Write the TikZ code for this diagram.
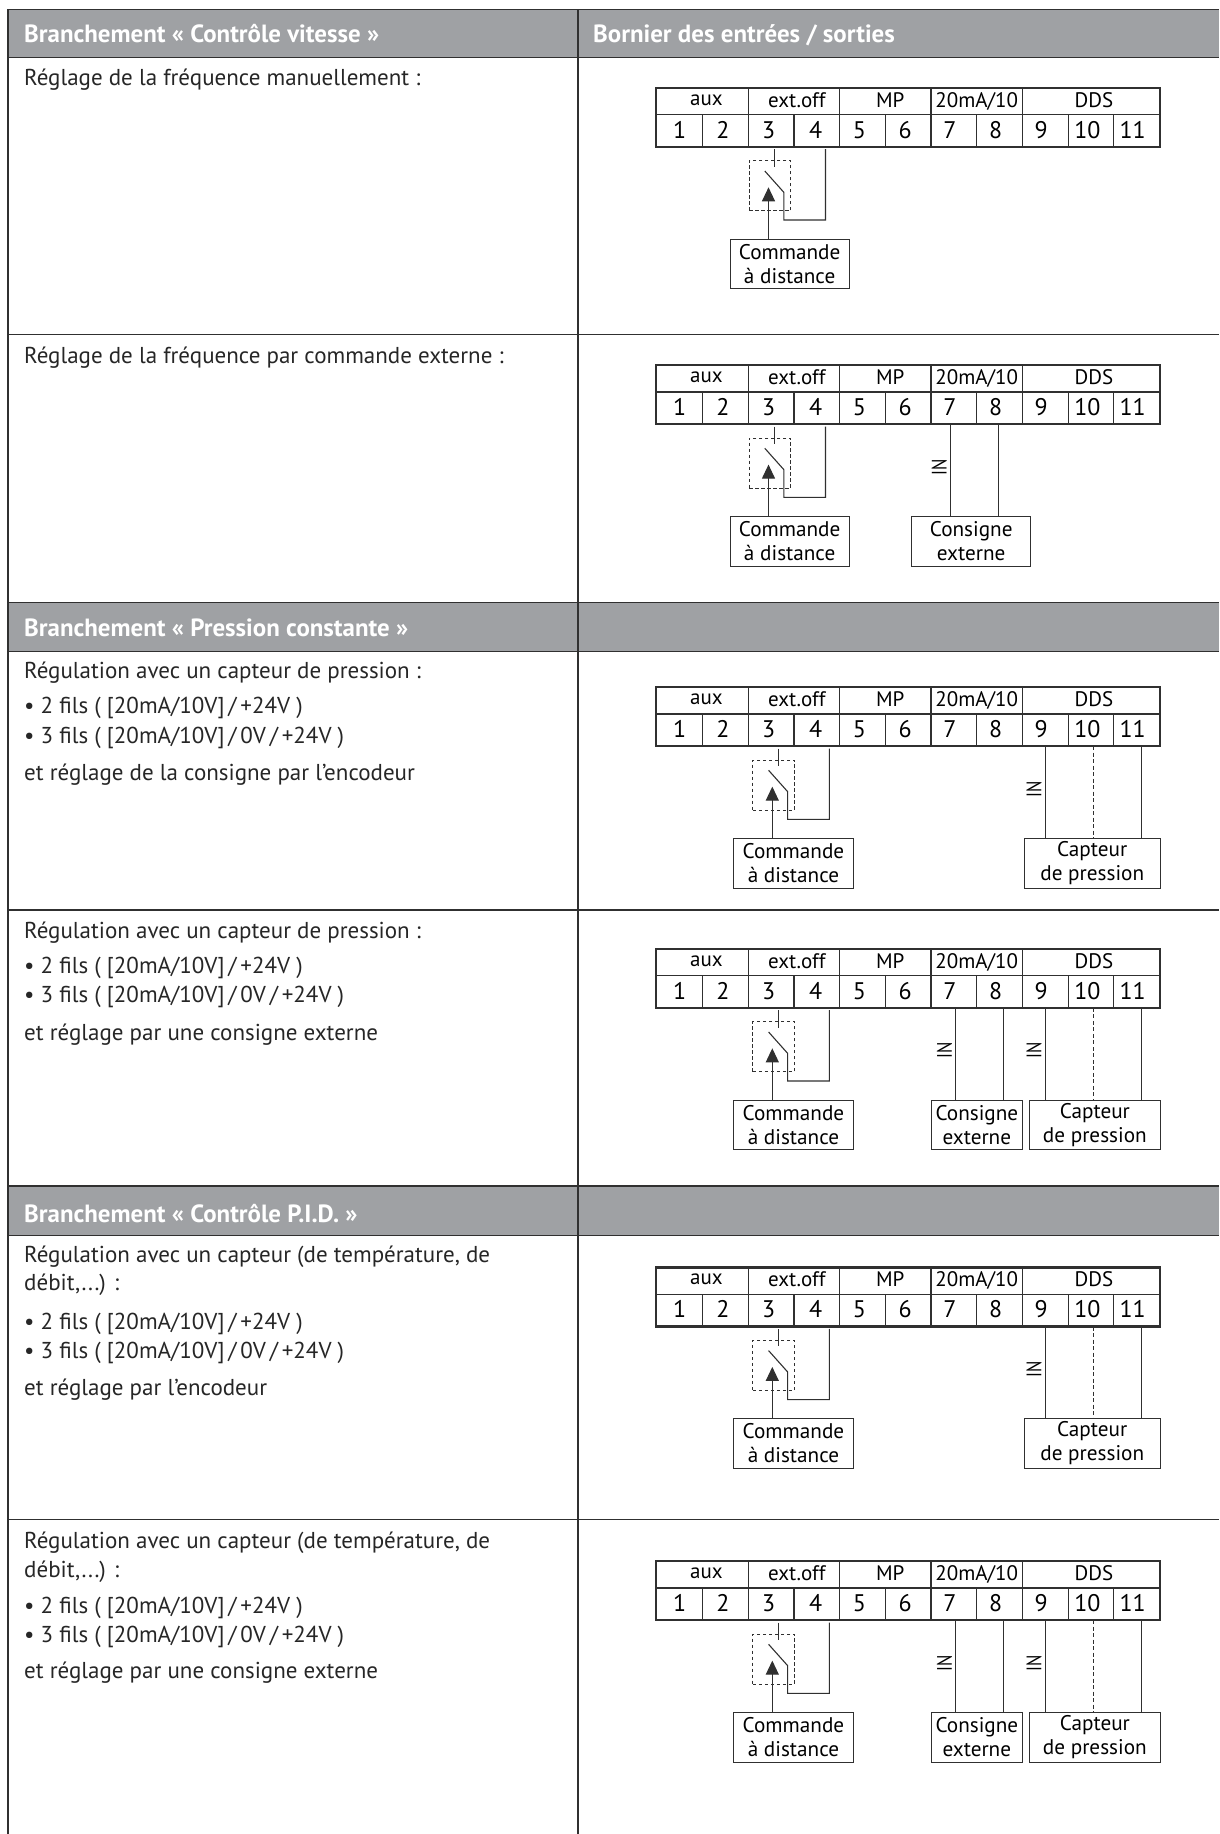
\documentclass[tikz,border=0pt]{standalone}
\usepackage{fontspec}
\setmainfont{PT Sans}
\usetikzlibrary{arrows.meta,positioning,calc}
\definecolor{mygray}{HTML}{9FA1A4}
\definecolor{myline}{HTML}{303030}

\newcommand{\deuxfils}{• 2 fils ( [20mA/10V]\,/\,+24V )}
\newcommand{\troisfils}{• 3 fils ( [20mA/10V]\,/\,0V\,/\,+24V )}

% terminal strip, #1 = row, #2 = top
\newcommand{\bornier}[2]{
	\foreach \a/\n/\s/\t in {0/2/8/{\raisebox{2pt}{aux}},2/2/6/{ext.off},4/2/10/{MP},6/2/0/{20mA/10},8/3/6/{DDS}}
	{
		\node [tete, minimum width = \n*45.7pt, anchor = north west] (h#1-\a) at (656.2+45.7*\a,#2) {\hspace*{\s pt}\t};
	}
	\foreach \i/\s in {1/0,2/5,3/5,4/2,5/6,6/6,7/8,8/8,9/8,10/7,11/8}
	{
		\node [borne, anchor = north west] (c#1-\i) at (656.2+45.7*\i-45.7,#2+26.4) {\i\hspace*{\s pt}};
	}
	\draw [cadre] (h#1-0.north west) rectangle (c#1-11.south east);
}

% switch with its remote box, #1 = row, #2 = top, #3 = x offset
\newcommand{\commande}[3]{
	\begin{scope}[shift = {(655.5+#3,#2)}]
		\node [boite, minimum width = 119.3pt] (cmd#1) at (134.15,176.15) {Commande\\à distance};
		\node [pointilles] (sw#1) at (114.35,98) {};
		\coordinate (a#1) at (119,61.5);
		\coordinate (b#1) at (119,79);
		\coordinate (p#1) at (109.3,83.3);
		\coordinate (q#1) at (128.3,104.6);
		\coordinate (r#1) at (128.3,132.3);
		\coordinate (s#1) at (170,132.3);
		\coordinate (t#1) at (170,61.5);
		\coordinate (k#1) at (113,99.6);
		\draw [fil] (a#1) -- (b#1); %to terminal 3
		\draw [fil] (p#1) -- (q#1) -- (r#1) -- (s#1) -- (t#1); %contact to terminal 4
		\draw [fil, -{Triangle[length=14pt,width=13pt]}] (k#1 |- cmd#1.north) -- (k#1);
	\end{scope}
}

% setpoint box, #1 = row, #2 = left, #3 = right, #4/#5 = wires, #6 = IN
\newcommand{\consigne}[6]{
	\coordinate (x#1) at (#2,0 |- cmd#1.center);
	\coordinate (z#1) at (#3,0 |- cmd#1.center);
	\node [boite, minimum width = #3pt-#2pt] (cons#1) at ($(x#1)!.5!(z#1)$) {Consigne\\externe};
	\draw [fil] (#4,0 |- c#1-7.south) -- (#4,0 |- cons#1.north);
	\draw [fil] (#5,0 |- c#1-8.south) -- (#5,0 |- cons#1.north);
	\node [entree] (in#1a) at (#6,0 |- sw#1.center) {\scalebox{.8}[1]{IN}};
}

% sensor box, #1 = row, #2 = left
\newcommand{\capteur}[2]{
	\coordinate (v#1) at (#2,0 |- cmd#1.center);
	\coordinate (w#1) at (1160,0 |- cmd#1.center);
	\node [boite, minimum width = 1160pt-#2pt] (cap#1) at ($(v#1)!.5!(w#1)$) {Capteur\\de pression};
	\draw [fil] (1045.5,0 |- c#1-9.south) -- (1045.5,0 |- cap#1.north);
	\draw [fil, dashed, dash pattern = on 4pt off 2.5pt] (1093.5,0 |- c#1-10.south) -- (1093.5,0 |- cap#1.north);
	\draw [fil] (1141.5,0 |- c#1-11.south) -- (1141.5,0 |- cap#1.north);
	\node [entree] (in#1b) at (1034,0 |- sw#1.center) {\scalebox{.8}[1]{IN}};
}

\begin{document}
\begin{tikzpicture}[x = 1pt, y = -1pt]
	\tikzstyle{tete} = [draw = myline, line width = 1.2pt, inner sep = 0, minimum height = 26.4pt, font = \fontsize{21}{23}\selectfont, text depth = 0pt, text height = 11.6pt]
	\tikzstyle{borne} = [draw = myline, line width = 1.2pt, inner sep = 0, minimum width = 45.7pt, minimum height = 31.6pt, font = \fontsize{24}{26}\selectfont, text depth = 0pt, text height = 15.6pt]
	\tikzstyle{cadre} = [draw = myline, line width = 2.2pt]
	\tikzstyle{boite} = [draw = myline, line width = 1pt, inner sep = 0, minimum height = 49.7pt, align = center, font = \fontsize{21.2}{24}\selectfont]
	\tikzstyle{pointilles} = [draw = myline, line width = .9pt, dash pattern = on 3.5pt off 2.5pt, inner sep = 0, minimum width = 41.7pt, minimum height = 50pt]
	\tikzstyle{fil} = [draw = myline, line width = 1.1pt]
	\tikzstyle{entree} = [inner sep = 0, rotate = 90, xshift = -4pt, font = \fontsize{21}{23}\selectfont]
	\tikzstyle{corps} = [inner sep = 0, anchor = base west, font = \fontsize{23}{25}\selectfont, text = black!85]
	\tikzstyle{titre} = [inner sep = 0, anchor = base west, font = \fontsize{24.9}{26}\selectfont\bfseries, text = white]

	\useasboundingbox (0,0) rectangle (1219,1834);

	%grey bands
	\foreach \y/\z in {9.4/57.3, 602.5/651.6, 1186/1235.4}
	{
		\fill [mygray] (8,\y) rectangle (1219,\z);
	}

	%rules
	\foreach \y in {9.4, 57.3, 334.6, 602.5, 651.6, 910, 1186, 1235.4, 1519.8}
	{
		\draw [myline, line width = 1.2pt] (8,\y) -- (1219,\y);
	}
	\draw [myline, line width = 1.2pt] (8,9.4) -- (8,1834);
	\draw [myline, line width = 1.2pt] (578,9.4) -- (578,1834);

	%headers
	\foreach \n/\x/\y/\t in {t1/24/42.7/{Branchement « Contrôle vitesse »},
		t2/593/42.7/{Bornier des entrées / sorties},
		t3/24/636.5/{Branchement « Pression constante »},
		t4/24/1222.6/{Branchement « Contrôle P.I.D. »}}
	{
		\node [titre] (\n) at (\x,\y) {\t};
	}

	%left column
	\foreach \n/\y/\t in {l1/85.5/{Réglage de la fréquence manuellement :},
		l2/363/{Réglage de la fréquence par commande externe :},
		l3/678.6/{Régulation avec un capteur de pression :},
		l4/713.7/{\deuxfils},
		l5/743/{\troisfils},
		l6/780.3/{et réglage de la consigne par l’encodeur},
		l7/938.3/{Régulation avec un capteur de pression :},
		l8/973.4/{\deuxfils},
		l9/1002.7/{\troisfils},
		l10/1040/{et réglage par une consigne externe},
		l11/1262.4/{Régulation avec un capteur (de température, de},
		l12/1290.5/{débit,...) :},
		l13/1329/{\deuxfils},
		l14/1358/{\troisfils},
		l15/1395.8/{et réglage par l’encodeur},
		l16/1548/{Régulation avec un capteur (de température, de},
		l17/1577/{débit,...) :},
		l18/1613/{\deuxfils},
		l19/1642.7/{\troisfils},
		l20/1678/{et réglage par une consigne externe}}
	{
		\node [corps] (\n) at (24,\y) {\t};
	}

	%right column
	\foreach \r/\y/\d in {1/87.7/0, 2/365/0, 3/687/3.8, 4/948.7/3.8, 5/1267.3/3.8, 6/1561/3.8}
	{
		\bornier{\r}{\y}
		\commande{\r}{\y}{\d}
	}
	\consigne{2}{911.7}{1030.7}{950.5}{998.5}{939.3}
	\capteur{3}{1024.5}
	\consigne{4}{931.7}{1022}{955.5}{1003.5}{944.5}
	\capteur{4}{1029.7}
	\capteur{5}{1024.5}
	\consigne{6}{931.7}{1022}{955.5}{1003.5}{944.5}
	\capteur{6}{1029.7}
\end{tikzpicture}
\end{document}
